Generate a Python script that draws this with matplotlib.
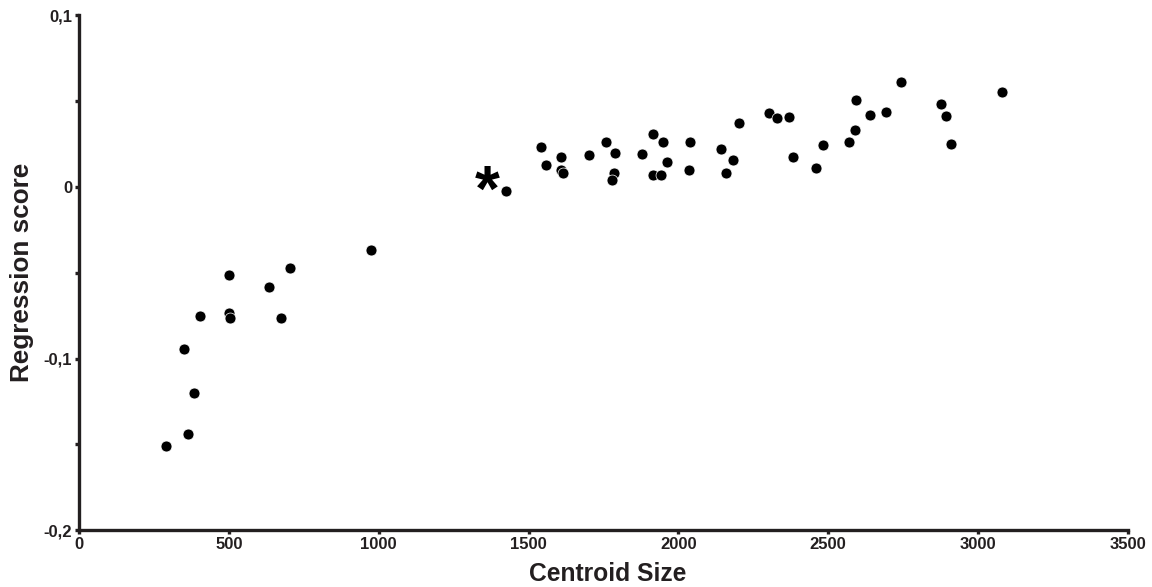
import matplotlib.pyplot as plt
from matplotlib.ticker import FixedLocator, FuncFormatter

plt.rcParams['font.family'] = ['Liberation Sans', 'DejaVu Sans']

# centroid size vs regression score
centroid_size = [290, 350, 364, 384, 404, 500, 500, 504, 634, 674, 704, 974,
                 1426, 1543, 1557, 1607, 1607, 1616, 1702, 1757, 1790, 1786, 1780,
                 1879, 1916, 1950, 1963, 1916, 1941, 2039, 2037, 2143, 2184, 2159,
                 2204, 2301, 2330, 2370, 2382, 2458, 2484, 2570, 2591, 2593, 2639,
                 2694, 2744, 2877, 2893, 2909, 3081]
regression_score = [-0.151, -0.0945, -0.144, -0.120, -0.075, -0.0513, -0.0735, -0.0764,
                     -0.0583, -0.0764, -0.0472, -0.0367,
                     -0.0022, 0.0231, 0.0127, 0.0173, 0.0099, 0.0082, 0.0188, 0.0264,
                     0.0196, 0.0083, 0.0039, 0.0194, 0.031, 0.026, 0.0144, 0.0072,
                     0.0072, 0.0264, 0.0097, 0.022, 0.0159, 0.008,
                     0.0375, 0.0433, 0.0400, 0.0406, 0.0173, 0.0113, 0.0245, 0.026,
                     0.0334, 0.0507, 0.0422, 0.0435, 0.0612, 0.0486, 0.0414, 0.0251,
                     0.0556]
star_x, star_y = 1361, 0.0035

x_ticks = [0, 500, 1000, 1500, 2000, 2500, 3000, 3500]
y_ticks = [-0.2, -0.1, 0, 0.1]
y_minor = [-0.15, -0.05, 0.05]

fig = plt.figure(figsize=(11.52, 5.87), dpi=100)
ax = fig.add_axes([0.0686, 0.0971, 0.9104, 0.8765])

ax.scatter(centroid_size, regression_score, s=62, color='black',
           edgecolors='white', linewidths=0.5, zorder=3)
ax.annotate('*', (star_x, star_y), xytext=(0, -9), textcoords='offset points',
            fontsize=46, fontweight='bold', ha='center', va='center',
            color='black')

ax.set_xlim(0, 3500)
ax.set_ylim(-0.2, 0.1)
ax.xaxis.set_major_locator(FixedLocator(x_ticks))
ax.yaxis.set_major_locator(FixedLocator(y_ticks))
ax.yaxis.set_minor_locator(FixedLocator(y_minor))


def comma(v, pos):
    if abs(v) < 1e-9:
        return '0'
    return ('%g' % round(v, 2)).replace('.', ',')


ax.yaxis.set_major_formatter(FuncFormatter(comma))

for side in ['top', 'right']:
    ax.spines[side].set_visible(False)
for side in ['left', 'bottom']:
    ax.spines[side].set_linewidth(2.4)
    ax.spines[side].set_color('#231f20')

ax.tick_params(which='both', direction='out', length=3, width=2.4,
               color='#231f20', labelsize=12, pad=2)
for lbl in ax.get_xticklabels() + ax.get_yticklabels():
    lbl.set_fontweight('bold')
    lbl.set_color('#231f20')

ax.set_xlabel('Centroid Size', fontsize=17.7, fontweight='bold',
              color='#231f20')
ax.xaxis.set_label_coords(0.504, -0.062)
ax.set_ylabel('Regression score', fontsize=18.8, fontweight='bold',
              color='#231f20', labelpad=7)

fig.savefig('out.png', dpi=100)
